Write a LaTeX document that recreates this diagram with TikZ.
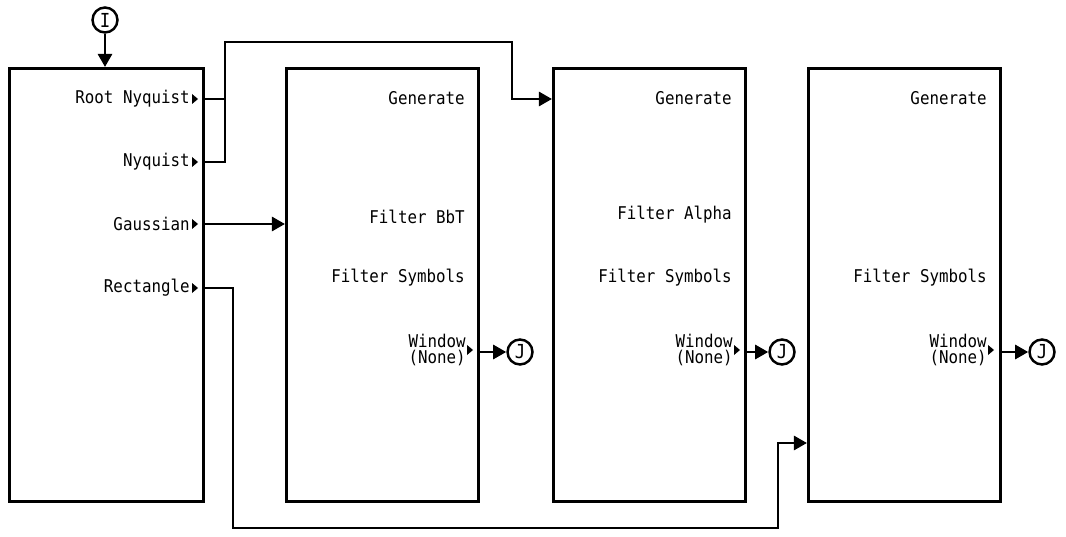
\documentclass[tikz,border=0pt]{standalone}
\usepackage{fontspec}
\newfontfamily\lcdfont[FakeStretch=0.9]{DejaVu Sans Mono}
\usetikzlibrary{arrows.meta, positioning, calc}

\tikzset{
  blk/.style={draw, line width=1.7pt, anchor=north west, inner sep=0pt,
    minimum width=3.84cm, minimum height=8.66cm},
  lbl/.style={font=\lcdfont\fontsize{10}{8.6}\selectfont, anchor=east,
    inner sep=0pt, align=right},
  wire/.style={line width=1.7pt},
  conn/.style={wire, -{Triangle[length=7.5pt,width=8pt]}},
  term/.style={draw, circle, line width=1.4pt, minimum size=0.5cm, inner sep=0pt,
    font=\lcdfont\fontsize{11}{11}\selectfont},
  pics/outtip/.style={code={\fill (0,0) -- (-6,-5) -- (-6,5) -- cycle;}}
}

\begin{document}
\begin{tikzpicture}[x=0.02cm, y=-0.02cm]
  \useasboundingbox (0,0) rectangle (1066,537);

  % blocks
  \node[blk, minimum width=3.88cm] (src) at (8,67) {};
  \node[blk] (bbt) at (285,67) {};
  \node[blk] (alpha) at (552,67) {};
  \node[blk] (sym) at (807,67) {};

  % filter choices
  \node[lbl] (rootnyq) at (190,99) {Root Nyquist};
  \node[lbl] (nyq) at (190,162) {Nyquist};
  \node[lbl] (gauss) at (190,224) {Gaussian};
  \node[lbl] (rect) at (190,288) {Rectangle};
  \foreach \y in {99,162,224,288}
    \pic at (198,\y) {outtip};

  % menu texts
  \node[lbl] (gen2) at (465,98) {Generate};
  \node[lbl] (bbtval) at (465,217) {Filter BbT};
  \node[lbl] (sym2) at (465,278) {Filter Symbols};
  \node[lbl] (win2) at (466,350) {Window\\(None)};
  \node[lbl] (gen3) at (732,98) {Generate};
  \node[lbl] (alphaval) at (732,215) {Filter Alpha};
  \node[lbl] (sym3) at (732,278) {Filter Symbols};
  \node[lbl] (win3) at (733,350) {Window\\(None)};
  \node[lbl] (gen4) at (987,98) {Generate};
  \node[lbl] (sym4) at (987,278) {Filter Symbols};
  \node[lbl] (win4) at (987,350) {Window\\(None)};
  \pic at (473,350) {outtip};
  \pic at (740,350) {outtip};
  \pic at (994,350) {outtip};

  % terminals
  \node[term] (I) at (105,20) {I};
  \node[term] (J2) at (520,352) {J};
  \node[term] (J3) at (782,352) {J};
  \node[term] (J4) at (1042,352) {J};

  % connectors
  \coordinate (upL) at (225,42);
  \coordinate (upR) at (512,42);
  \coordinate (dnL) at (233,528);
  \coordinate (dnR) at (778,443);
  \draw[conn] (I.south) -- (I |- src.north);
  \draw[conn] (src.east |- rootnyq.east) -| (upL) -| (upR) |- (alpha.west |- rootnyq.east);
  \draw[wire] (src.east |- nyq.east) -| (upL);
  \draw[conn] (src.east |- gauss.east) -- (bbt.west |- gauss.east);
  \draw[conn] (src.east |- rect.east) -| (dnL) -| (dnR) -- (sym.west |- dnR);
  \draw[conn] (J2 -| bbt.east) -- (J2.west);
  \draw[conn] (J3 -| alpha.east) -- (J3.west);
  \draw[conn] (J4 -| sym.east) -- (J4.west);
\end{tikzpicture}
\end{document}
